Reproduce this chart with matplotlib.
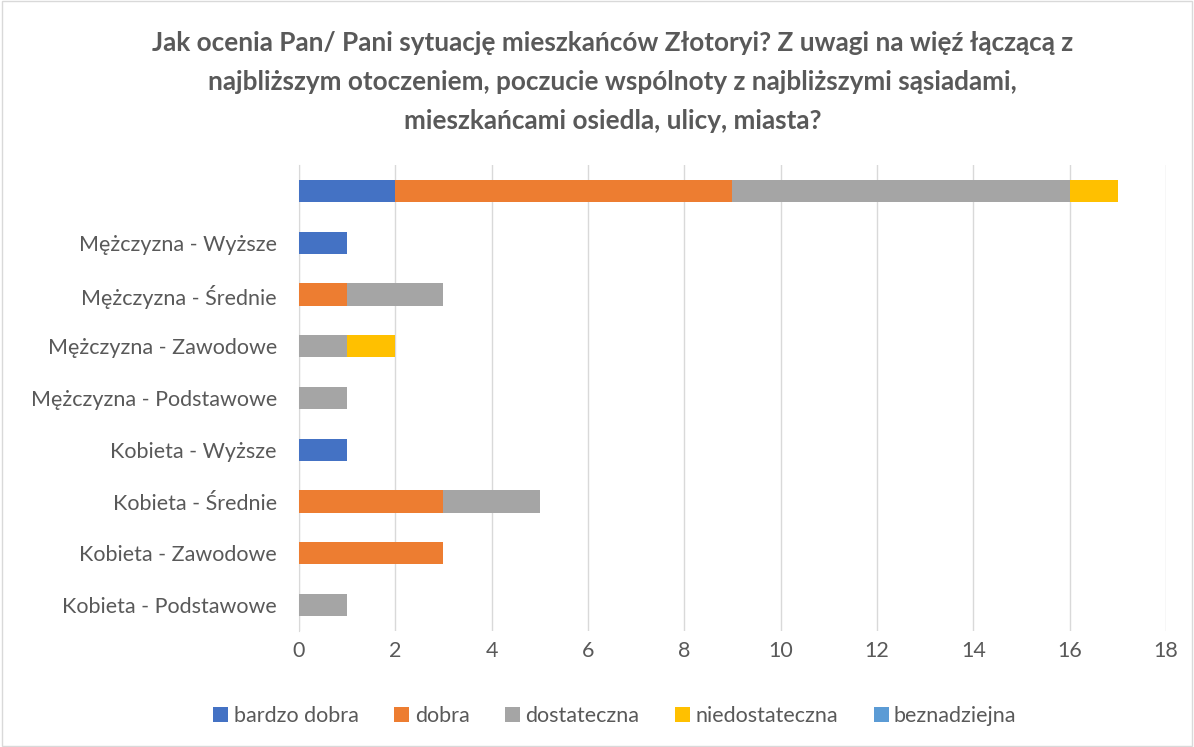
import numpy as np
import matplotlib.pyplot as plt

plt.rcParams['font.family'] = ['Lato', 'DejaVu Sans']

# dane
kategorie = ['Kobieta - Podstawowe', 'Kobieta - Zawodowe', 'Kobieta - Średnie', 'Kobieta - Wyższe',
             'Mężczyzna - Podstawowe', 'Mężczyzna - Zawodowe', 'Mężczyzna - Średnie',
             'Mężczyzna - Wyższe', '']
serie = ['bardzo dobra', 'dobra', 'dostateczna', 'niedostateczna', 'beznadziejna']
bardzo_dobra = [0, 0, 0, 1, 0, 0, 0, 1, 2]
dobra = [0, 3, 3, 0, 0, 0, 1, 0, 7]
dostateczna = [1, 0, 2, 0, 1, 1, 2, 0, 7]
niedostateczna = [0, 0, 0, 0, 0, 1, 0, 0, 1]
beznadziejna = [0, 0, 0, 0, 0, 0, 0, 0, 0]
kolory = ['#4472C4', '#ED7D31', '#A5A5A5', '#FFC000', '#5B9BD5']

tytul = ('Jak ocenia Pan/ Pani sytuację mieszkańców Złotoryi? Z uwagi na więź łączącą z\n'
         'najbliższym otoczeniem, poczucie wspólnoty z najbliższymi sąsiadami,\n'
         'mieszkańcami osiedla, ulicy, miasta?')

fig = plt.figure(figsize=(11.94, 7.47), dpi=100)
ax = fig.add_axes([0.2504, 0.1553, 0.7261, 0.6237])

y = np.arange(len(kategorie))
left = np.zeros(len(kategorie))
for nazwa, wart, kol in zip(serie, [bardzo_dobra, dobra, dostateczna, niedostateczna, beznadziejna], kolory):
    ax.barh(y, wart, left=left, height=0.43, color=kol, label=nazwa, zorder=3)
    left += np.array(wart)

ax.set_xlim(0, 18)
ax.set_ylim(-0.5, len(kategorie) - 0.5)
ax.set_xticks(range(0, 19, 2))
ax.set_yticks(y)
ax.set_yticklabels(kategorie)
ax.grid(axis='x', color='#D9D9D9', linewidth=1, zorder=0)
for s in ['top', 'right', 'bottom']:
    ax.spines[s].set_visible(False)
ax.spines['left'].set_color('#D9D9D9')
ax.tick_params(length=0, labelsize=15.5, colors='#595959', pad=16)
ax.tick_params(axis='x', pad=7)

fig.text(0.513, 0.958, tytul, ha='center', va='top', fontsize=18.8, fontweight='bold',
         color='#595959', linespacing=1.75)

fig.legend(loc='center', bbox_to_anchor=(0.515, 0.042), ncol=5, frameon=False,
           fontsize=15.5, handlelength=0.7, handleheight=0.7, columnspacing=1.65,
           handletextpad=0.25, labelcolor='#595959')

# ramka wykresu
fig.patches.append(plt.Rectangle((0.002, 0.002), 0.996, 0.996, transform=fig.transFigure,
                                 fill=False, edgecolor='#D9D9D9', linewidth=1))

plt.savefig('out.png', dpi=100)
